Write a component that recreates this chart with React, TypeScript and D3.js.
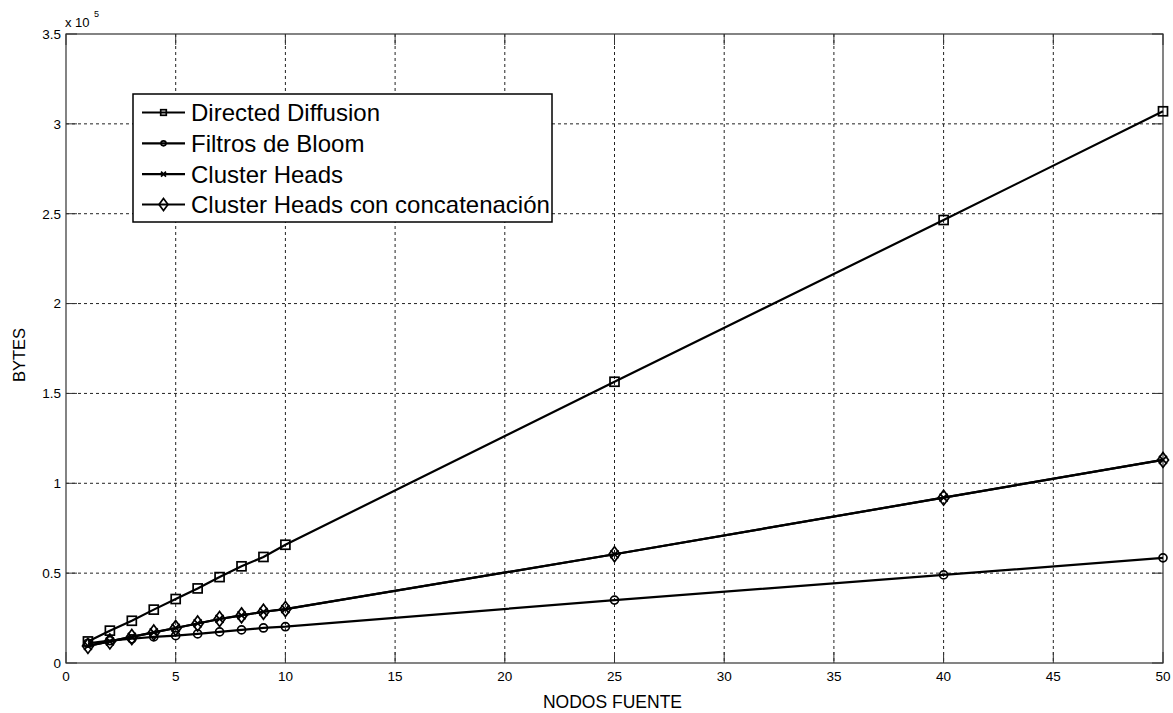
import React from "react";
import * as d3 from "d3";

const nodes = [1, 2, 3, 4, 5, 6, 7, 8, 9, 10, 25, 40, 50];
const directedDiffusion = [12000, 18000, 23500, 29700, 35600, 41500, 47800, 53800, 59000, 65800, 156500, 246500, 307000];
const filtrosBloom = [11000, 12500, 13500, 14500, 15200, 16200, 17300, 18400, 19500, 20200, 35000, 49000, 58500];
const clusterHeads = [9500, 12000, 14500, 17000, 19500, 22000, 24500, 26500, 28500, 30000, 60500, 92000, 113000];
const clusterHeadsConcat = [9500, 12000, 14500, 17000, 19500, 22000, 24500, 26500, 28500, 30000, 60500, 92000, 113000];

const xTicks = [0, 5, 10, 15, 20, 25, 30, 35, 40, 45, 50];
const yTicks = [0, 50000, 100000, 150000, 200000, 250000, 300000, 350000];
const yTickLabels = ["0", "0.5", "1", "1.5", "2", "2.5", "3", "3.5"];

const seriesNames = ["Directed Diffusion", "Filtros de Bloom", "Cluster Heads", "Cluster Heads con concatenación"];
const seriesValues = [directedDiffusion, filtrosBloom, clusterHeads, clusterHeadsConcat];
const seriesMarkers = ["square", "circle", "x", "diamond"];

const W = 1173, H = 713;
const L = 66, R = 1163, T = 34, B = 663;
const FONT = "Arial, 'Liberation Sans', Helvetica, sans-serif";

function Marker({ type, x, y, big }: { type: string; x: number; y: number; big: boolean }) {
  const s = big ? 1 : 0.62;
  const sw = 1.7;
  if (type === "square") {
    const h = 4.5 * s;
    return <rect x={x - h} y={y - h} width={2 * h} height={2 * h} fill="none" stroke="#000" strokeWidth={sw} />;
  }
  if (type === "circle") {
    return <circle cx={x} cy={y} r={4 * s} fill="none" stroke="#000" strokeWidth={sw} />;
  }
  if (type === "x") {
    const h = 4 * s;
    return (
      <path d={`M${x - h},${y - h}L${x + h},${y + h}M${x - h},${y + h}L${x + h},${y - h}`} stroke="#000" strokeWidth={sw} />
    );
  }
  const hw = big ? 5.5 : 4.5, hh = big ? 7.5 : 6;
  return (
    <path d={`M${x},${y - hh}L${x + hw},${y}L${x},${y + hh}L${x - hw},${y}Z`} fill="none" stroke="#000" strokeWidth={sw} />
  );
}

export default function App() {
  const x = d3.scaleLinear().domain([0, 50]).range([L, R]);
  const y = d3.scaleLinear().domain([0, 350000]).range([B, T]);
  const line = d3.line<[number, number]>().x((d) => x(d[0])).y((d) => y(d[1]));

  const legendX = 133, legendY = 94, legendW = 419, legendH = 128;
  const rowY = [112.5, 143.3, 174.1, 204.5];

  return (
    <div style={{ position: "absolute", left: 0, top: 0 }}>
      <svg width={W} height={H} style={{ display: "block", background: "#fff" }}>
        <rect x={0} y={0} width={W} height={H} fill="#fff" />
        {xTicks.slice(1, -1).map((t) => (
          <line key={"gx" + t} x1={x(t)} x2={x(t)} y1={T} y2={B} stroke="#222" strokeWidth={1} strokeDasharray="3,3" />
        ))}
        {yTicks.slice(1, -1).map((t) => (
          <line key={"gy" + t} x1={L} x2={R} y1={y(t)} y2={y(t)} stroke="#222" strokeWidth={1} strokeDasharray="3,3" />
        ))}
        {xTicks.map((t) => (
          <g key={"tx" + t}>
            <line x1={x(t)} x2={x(t)} y1={B} y2={B - 11} stroke="#333" />
            <line x1={x(t)} x2={x(t)} y1={T} y2={T + 11} stroke="#333" />
          </g>
        ))}
        {yTicks.map((t) => (
          <g key={"ty" + t}>
            <line x1={L} x2={L + 11} y1={y(t)} y2={y(t)} stroke="#333" />
            <line x1={R} x2={R - 11} y1={y(t)} y2={y(t)} stroke="#333" />
          </g>
        ))}
        <rect x={L} y={T} width={R - L} height={B - T} fill="none" stroke="#333" strokeWidth={1.2} />
        {xTicks.map((t) => (
          <text key={"lx" + t} x={x(t)} y={681} textAnchor="middle" fontFamily={FONT} fontSize={13.5} fill="#000">
            {t}
          </text>
        ))}
        {yTicks.map((t, i) => (
          <text key={"ly" + t} x={61} y={y(t)} dy="0.36em" textAnchor="end" fontFamily={FONT} fontSize={13.5} fill="#000">
            {yTickLabels[i]}
          </text>
        ))}
        <text x={65} y={27} fontFamily={FONT} fontSize={13} fill="#000">
          x 10
        </text>
        <text x={94} y={17} fontFamily={FONT} fontSize={9} fill="#000">
          5
        </text>
        <text x={(L + R) / 2 - 2} y={708} textAnchor="middle" fontFamily={FONT} fontSize={17.5} fill="#000">
          NODOS FUENTE
        </text>
        <text transform={`translate(25,355) rotate(-90)`} textAnchor="middle" fontFamily={FONT} fontSize={16.5} fill="#000">
          BYTES
        </text>
        {seriesValues.map((vals, si) => {
          const pts: [number, number][] = nodes.map((n, i) => [n, vals[i]]);
          return (
            <g key={"s" + si}>
              <path d={line(pts) || ""} fill="none" stroke="#000" strokeWidth={2.2} />
              {pts.map((p, i) => (
                <Marker key={i} type={seriesMarkers[si]} x={x(p[0])} y={y(p[1])} big={true} />
              ))}
            </g>
          );
        })}
        <rect x={legendX} y={legendY} width={legendW} height={legendH} fill="#fff" stroke="#000" strokeWidth={1.5} />
        {seriesNames.map((name, i) => (
          <g key={"lg" + i}>
            <line x1={142} x2={185} y1={rowY[i]} y2={rowY[i]} stroke="#000" strokeWidth={2.2} />
            <Marker type={seriesMarkers[i]} x={163.5} y={rowY[i]} big={false} />
            <text x={191} y={rowY[i]} dy="0.36em" fontFamily={FONT} fontSize={24} fill="#000">
              {name}
            </text>
          </g>
        ))}
      </svg>
    </div>
  );
}
